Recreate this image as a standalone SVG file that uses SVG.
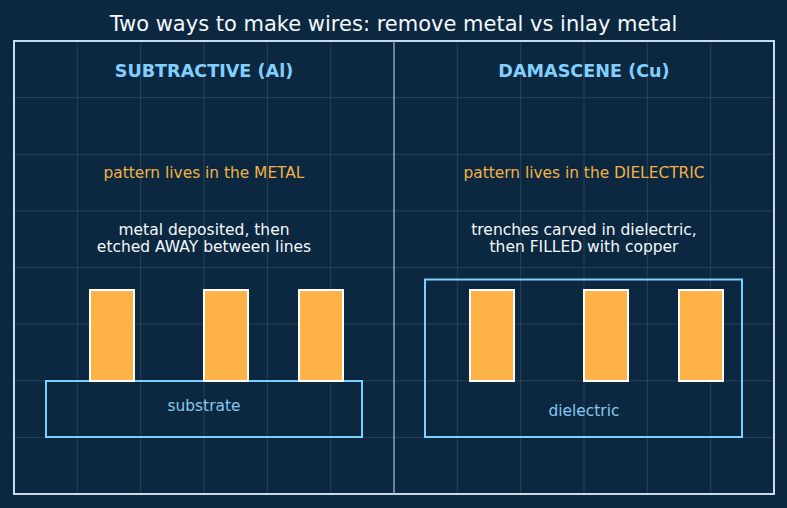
<svg xmlns="http://www.w3.org/2000/svg" width="787" height="508" viewBox="0 0 787 508">
<style>
text{font-family:"DejaVu Sans","Liberation Sans",sans-serif;text-anchor:middle}
.title{font-size:21px;fill:#f4f8fb}
.head{font-size:17.6px;font-weight:bold;fill:#82cfff}
.note{font-size:15.4px;fill:#f2b143}
.desc{font-size:15.5px;fill:#f4f8fb}
.lab{font-size:15.4px;fill:#86c9ee}
.grid line{stroke:#ffffff;stroke-opacity:0.12;stroke-width:1}
.bar{fill:#ffb347;stroke:#ffffff;stroke-width:2}
.base{fill:none;stroke:#7fcfff;stroke-width:2}
</style>
<rect width="787" height="508" fill="#0b2840"/>
<g class="grid">
<line x1="77.3" y1="41" x2="77.3" y2="494"/>
<line x1="140.7" y1="41" x2="140.7" y2="494"/>
<line x1="204" y1="41" x2="204" y2="494"/>
<line x1="267.3" y1="41" x2="267.3" y2="494"/>
<line x1="330.7" y1="41" x2="330.7" y2="494"/>
<line x1="457.3" y1="41" x2="457.3" y2="494"/>
<line x1="520.7" y1="41" x2="520.7" y2="494"/>
<line x1="584" y1="41" x2="584" y2="494"/>
<line x1="647.3" y1="41" x2="647.3" y2="494"/>
<line x1="710.7" y1="41" x2="710.7" y2="494"/>
<line x1="14" y1="97.6" x2="774" y2="97.6"/>
<line x1="14" y1="154.3" x2="774" y2="154.3"/>
<line x1="14" y1="210.9" x2="774" y2="210.9"/>
<line x1="14" y1="267.5" x2="774" y2="267.5"/>
<line x1="14" y1="324.1" x2="774" y2="324.1"/>
<line x1="14" y1="380.8" x2="774" y2="380.8"/>
<line x1="14" y1="437.4" x2="774" y2="437.4"/>
</g>
<rect x="14" y="41" width="760" height="453" fill="none" stroke="#c9dceb" stroke-width="2"/>
<line x1="394" y1="41" x2="394" y2="494" stroke="#8aa3b8" stroke-width="1.5"/>
<text class="title" x="393.5" y="30.5">Two ways to make wires: remove metal vs inlay metal</text>
<g id="subtractive">
<text class="head" x="204" y="76.5">SUBTRACTIVE (Al)</text>
<text class="note" x="204" y="177.5">pattern lives in the METAL</text>
<text class="desc" x="204" y="234.5">metal deposited, then</text>
<text class="desc" x="204" y="251.5">etched AWAY between lines</text>
<rect class="base" x="46" y="381" width="316" height="56"/>
<text class="lab" x="204" y="410.5">substrate</text>
<rect class="bar" x="90" y="290" width="44" height="91"/>
<rect class="bar" x="204" y="290" width="44" height="91"/>
<rect class="bar" x="299" y="290" width="44" height="91"/>
</g>
<g id="damascene">
<text class="head" x="584" y="76.5">DAMASCENE (Cu)</text>
<text class="note" x="584" y="177.5">pattern lives in the DIELECTRIC</text>
<text class="desc" x="584" y="234.5">trenches carved in dielectric,</text>
<text class="desc" x="584" y="251.5">then FILLED with copper</text>
<rect class="base" x="425" y="279.5" width="317" height="157.5"/>
<text class="lab" x="584" y="415.5">dielectric</text>
<rect class="bar" x="470" y="290" width="44" height="91"/>
<rect class="bar" x="584" y="290" width="44" height="91"/>
<rect class="bar" x="679" y="290" width="44" height="91"/>
</g>
<g id="connectors"/>
</svg>
